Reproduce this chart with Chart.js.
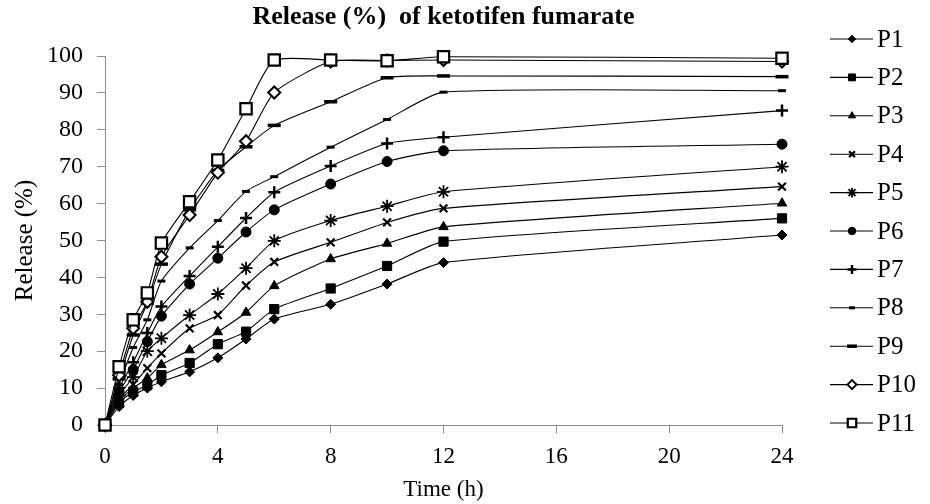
<!DOCTYPE html>
<html>
<head>
<meta charset="utf-8">
<title>Release (%) of ketotifen fumarate</title>
<script src="https://cdn.jsdelivr.net/npm/chart.js@4.4.1/dist/chart.umd.min.js"></script>
<style>
  html, body { margin: 0; padding: 0; background: #fff; }
  #wrap { width: 930px; height: 504px; }
</style>
</head>
<body>
<div id="wrap"><canvas id="releaseChart" width="930" height="504"></canvas></div>
<script>
// sampling times (h)
const times = [0, 0.5, 1, 1.5, 2, 3, 4, 5, 6, 8, 10, 12, 24];

// released drug (%) per formulation
const P1 = [0, 5, 8, 10, 11.7, 14.4, 18.2, 23.3, 28.7, 32.7, 38.2, 44.0, 51.5];
const P2 = [0, 6, 9, 10.8, 13.5, 16.8, 21.9, 25.3, 31.4, 37.0, 43.1, 49.7, 56.0];
const P3 = [0, 6.5, 10, 12.7, 16.3, 20.3, 25.2, 30.5, 37.7, 45.0, 49.2, 53.7, 60.1];
const P4 = [0, 7, 11, 15.4, 19.4, 26.2, 29.8, 37.8, 44.2, 49.5, 54.9, 58.7, 64.6];
const P5 = [0, 8, 13, 20, 23.5, 29.8, 35.5, 42.5, 49.9, 55.4, 59.3, 63.2, 70.0];
const P6 = [0, 9, 15, 22.6, 29.5, 38.2, 45.2, 52.3, 58.3, 65.3, 71.4, 74.3, 76.1];
const P7 = [0, 10, 17, 24.9, 32.1, 40.4, 48.3, 56.1, 63.1, 70.2, 76.3, 78.0, 85.2];
const P8 = [0, 11, 21, 28.5, 39.0, 48.0, 55.4, 63.3, 67.3, 75.3, 82.8, 90.2, 90.6];
const P9 = [0, 12.5, 24.4, 33, 43.6, 58.3, 69, 75.4, 81.2, 87.6, 94.1, 94.6, 94.4];
const P10 = [0, 13.5, 26.2, 33.4, 45.6, 56.9, 68.4, 76.9, 90.1, 98.5, 98.8, 98.9, 98.5];
const P11 = [0, 15.8, 28.5, 35.8, 49.3, 60.5, 71.8, 85.7, 98.9, 98.9, 98.7, 99.8, 99.4];

const seriesNames = ["P1", "P2", "P3", "P4", "P5", "P6", "P7", "P8", "P9", "P10", "P11"];
const seriesValues = [P1, P2, P3, P4, P5, P6, P7, P8, P9, P10, P11];

const xTicks = [0, 4, 8, 12, 16, 20, 24];
const yTicks = [0, 10, 20, 30, 40, 50, 60, 70, 80, 90, 100];

// marker look for each series (Excel style black markers)
const markers = [
  { pointStyle: "rectRot", radius: 5, fill: "#000", border: 1 },
  { pointStyle: "rect", radius: 6.5, fill: "#000", border: 1 },
  { pointStyle: "triangle", radius: 5.5, fill: "#000", border: 1 },
  { pointStyle: "crossRot", radius: 5.5, fill: "#000", border: 2.2 },
  { pointStyle: "star", radius: 6.5, fill: "#000", border: 1.8 },
  { pointStyle: "circle", radius: 5, fill: "#000", border: 1 },
  { pointStyle: "cross", radius: 6, fill: "#000", border: 2.5 },
  { pointStyle: "line", radius: 4, fill: "#000", border: 3 },
  { pointStyle: "line", radius: 6.5, fill: "#000", border: 3.5 },
  { pointStyle: "rectRot", radius: 6, fill: "#fff", border: 2 },
  { pointStyle: "rect", radius: 8, fill: "#fff", border: 2.2 }
];

const FONT = "'Liberation Serif', 'Times New Roman', serif";
const AXIS_GREY = "#8c8c8c";

const datasets = seriesNames.map((name, i) => ({
  label: name,
  data: times.map((t, k) => ({ x: t, y: seriesValues[i][k] })),
  borderColor: "#000",
  borderWidth: 1.1,
  tension: 0.2,
  pointStyle: markers[i].pointStyle,
  pointRadius: markers[i].radius,
  pointBackgroundColor: markers[i].fill,
  pointBorderColor: "#000",
  pointBorderWidth: markers[i].border,
  clip: false,
  order: seriesNames.length - 1 - i
}));

// legend drawn by hand: short line with marker, text on the right
const sideLegend = {
  id: "sideLegend",
  afterDraw(chart) {
    const ctx = chart.ctx;
    const drawPoint = Chart.helpers && Chart.helpers.drawPoint;
    ctx.save();
    chart.data.datasets.forEach((ds, i) => {
      const y = 39 + i * 38.4;
      ctx.strokeStyle = "#000";
      ctx.lineWidth = 1.1;
      ctx.beginPath();
      ctx.moveTo(830, y);
      ctx.lineTo(873, y);
      ctx.stroke();
      if (drawPoint) {
        ctx.fillStyle = ds.pointBackgroundColor;
        ctx.strokeStyle = "#000";
        ctx.lineWidth = ds.pointBorderWidth;
        drawPoint(ctx, {
          pointStyle: ds.pointStyle,
          radius: ds.pointRadius * 0.75,
          rotation: 0,
          borderWidth: ds.pointBorderWidth
        }, 852, y);
      }
      ctx.fillStyle = "#000";
      ctx.font = "25px " + FONT;
      ctx.textAlign = "left";
      ctx.textBaseline = "middle";
      ctx.fillText(ds.label, 877, y + 1);
    });
    ctx.restore();
  }
};

new Chart(document.getElementById("releaseChart"), {
  type: "line",
  data: { datasets },
  options: {
    responsive: false,
    animation: false,
    events: [],
    layout: { padding: { left: 0, right: 148, top: 0, bottom: 0 } },
    plugins: {
      legend: { display: false },
      tooltip: { enabled: false },
      title: {
        display: true,
        text: "Release (%)  of ketotifen fumarate",
        color: "#000",
        fullSize: false,
        font: { family: FONT, size: 26, weight: "bold", lineHeight: 1.2 },
        padding: { top: 2, bottom: 22.8 }
      }
    },
    scales: {
      x: {
        type: "linear",
        min: 0,
        max: 24,
        afterBuildTicks: (scale) => { scale.ticks = xTicks.map((v) => ({ value: v })); },
        afterFit: (scale) => { scale.height = 79; },
        ticks: { color: "#000", padding: 10, font: { family: FONT, size: 23 } },
        grid: { display: true, drawOnChartArea: false, drawTicks: true, tickLength: 8, color: AXIS_GREY },
        border: { display: true, color: AXIS_GREY, width: 1 },
        title: {
          display: true,
          text: "Time (h)",
          color: "#000",
          font: { family: FONT, size: 23 },
          padding: { top: 0, bottom: 0 }
        }
      },
      y: {
        type: "linear",
        min: 0,
        max: 100,
        afterBuildTicks: (scale) => { scale.ticks = yTicks.map((v) => ({ value: v })); },
        afterFit: (scale) => { scale.width = 105; },
        ticks: { color: "#000", padding: 14, font: { family: FONT, size: 24 } },
        grid: { display: true, drawOnChartArea: false, drawTicks: true, tickLength: 8, color: AXIS_GREY },
        border: { display: true, color: AXIS_GREY, width: 1 },
        title: {
          display: true,
          text: "Release (%)",
          color: "#000",
          font: { family: FONT, size: 25 },
          padding: { top: 10, bottom: 10 }
        }
      }
    }
  },
  plugins: [sideLegend]
});
</script>
</body>
</html>
